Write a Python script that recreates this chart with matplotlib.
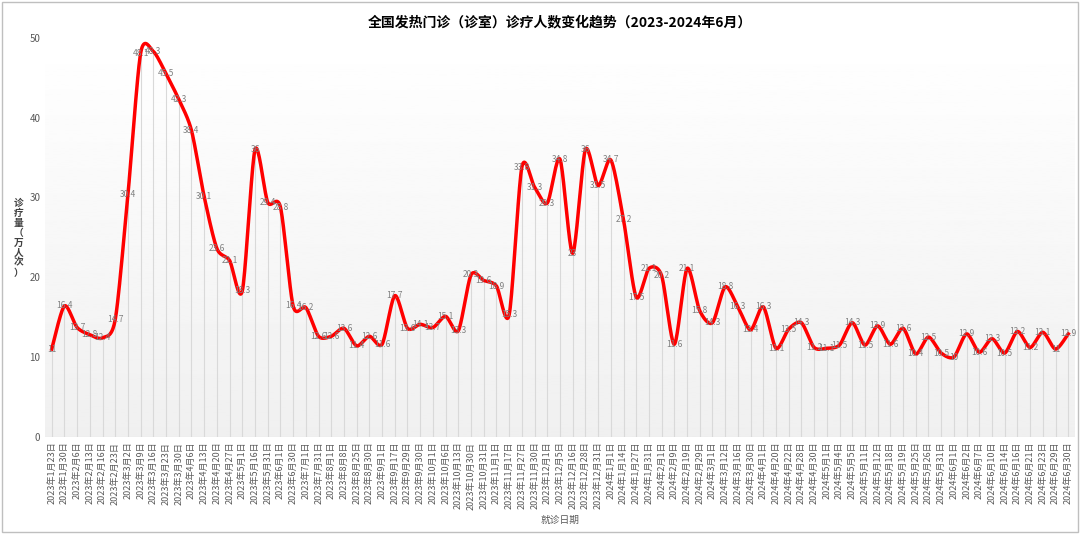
import numpy as np
import matplotlib.pyplot as plt

plt.rcParams['font.family'] = ['Noto Sans CJK SC', 'DejaVu Sans']

dates_2023 = ["1月23", "1月30", "2月6", "2月13", "2月16", "2月23", "3月2", "3月9", "3月16",
              "3月23", "3月30", "4月6", "4月13", "4月20", "4月27", "5月1", "5月16", "5月31",
              "6月1", "6月30", "7月1", "7月31", "8月1", "8月8", "8月25", "8月30", "9月1",
              "9月17", "9月29", "9月30", "10月1", "10月6", "10月13", "10月30", "10月31",
              "11月1", "11月17", "11月27", "11月30", "12月1", "12月5", "12月16", "12月28", "12月31"]
dates_2024 = ["1月1", "1月14", "1月27", "1月31", "2月1", "2月9", "2月19", "2月29", "3月1",
              "3月12", "3月16", "3月30", "4月1", "4月20", "4月22", "4月28", "4月30", "5月1",
              "5月4", "5月5", "5月11", "5月12", "5月18", "5月19", "5月25", "5月26", "5月31",
              "6月1", "6月2", "6月7", "6月10", "6月14", "6月16", "6月21", "6月23", "6月29", "6月30"]
labels = ["2023年" + d + "日" for d in dates_2023] + ["2024年" + d + "日" for d in dates_2024]

values = [11, 16.4, 13.7, 12.8, 12.4, 14.7, 30.4, 48.1, 48.3, 45.5, 42.3, 38.4, 30.1, 23.6,
          22.1, 18.3, 36, 29.4, 28.8, 16.4, 16.2, 12.6, 12.6, 13.6, 11.4, 12.6, 11.6, 17.7,
          13.6, 14.1, 13.7, 15.1, 13.3, 20.3, 19.6, 18.9, 15.3, 33.8, 31.3, 29.3, 34.8, 23,
          36, 31.5,
          34.7, 27.2, 17.5, 21.1, 20.2, 11.6, 21.1, 15.8, 14.3, 18.8, 16.3, 13.4, 16.3, 11.1,
          13.5, 14.3, 11.2, 11.1, 11.5, 14.3, 11.5, 13.9, 11.6, 13.6, 10.4, 12.5, 10.5, 10,
          12.9, 10.6, 12.3, 10.5, 13.2, 11.2, 13.1, 11, 12.9]


def smooth(x, y, n=20, tension=0.4):
    # cardinal spline through the points, only for drawing a smooth line
    p = np.column_stack([x, y]).astype(float)
    p = np.vstack([p[0], p, p[-1]])
    out = []
    t = np.linspace(0, 1, n, endpoint=False)[:, None]
    h00 = 2 * t ** 3 - 3 * t ** 2 + 1
    h10 = t ** 3 - 2 * t ** 2 + t
    h01 = -2 * t ** 3 + 3 * t ** 2
    h11 = t ** 3 - t ** 2
    for i in range(1, len(p) - 2):
        p0, p1, p2, p3 = p[i - 1], p[i], p[i + 1], p[i + 2]
        m1 = tension * (p2 - p0)
        m2 = tension * (p3 - p1)
        out.append(h00 * p1 + h10 * m1 + h01 * p2 + h11 * m2)
    out.append(p[-2][None, :])
    out = np.vstack(out)
    return out[:, 0], out[:, 1]


x = np.arange(len(values))
fig = plt.figure(figsize=(10.8, 5.34), dpi=100)
ax = fig.add_axes([0.042, 0.182, 0.953, 0.747])

# light gradient background
grad = np.linspace(0.94, 1.0, 256)[:, None]
ax.imshow(grad, extent=[-0.5, len(values) - 0.5, 0, 50], aspect='auto', cmap='gray',
          vmin=0, vmax=1, origin='lower', zorder=0)

ax.vlines(x, 0, values, color='#d9d9d9', lw=0.8, zorder=1)
sx, sy = smooth(x, values)
ax.plot(sx, sy, color='red', lw=2.5, zorder=3)
for xi, v in zip(x, values):
    ax.text(xi, v, f"{v:g}", ha='center', va='center', fontsize=6, color='#7f7f7f', zorder=4)

ax.set_xlim(-0.5, len(values) - 0.5)
ax.set_ylim(0, 50)
ax.set_yticks([0, 10, 20, 30, 40, 50])
ax.set_xticks(x)
ax.set_xticklabels(labels, rotation=90, fontsize=6.5, color='#595959')
ax.tick_params(axis='y', labelsize=7, colors='#595959', length=0)
ax.tick_params(axis='x', length=0)
for s in ax.spines.values():
    s.set_visible(False)
ax.axhline(0, color='#d9d9d9', lw=0.8)

ax.set_title("全国发热门诊（诊室）诊疗人数变化趋势（2023-2024年6月）", fontsize=10,
             fontweight='bold', pad=8)
ax.set_xlabel("就诊日期", fontsize=7, color='#595959')
fig.text(0.017, 0.555, "\n".join("诊疗量（万人次）"), ha='center', va='center',
         fontsize=7, fontweight='bold', color='#404040', linespacing=1.0)

fig.patches.append(plt.Rectangle((0.002, 0.004), 0.996, 0.992, transform=fig.transFigure,
                                 fill=False, edgecolor='#bfbfbf', lw=1))
fig.savefig("out.png", dpi=100)
